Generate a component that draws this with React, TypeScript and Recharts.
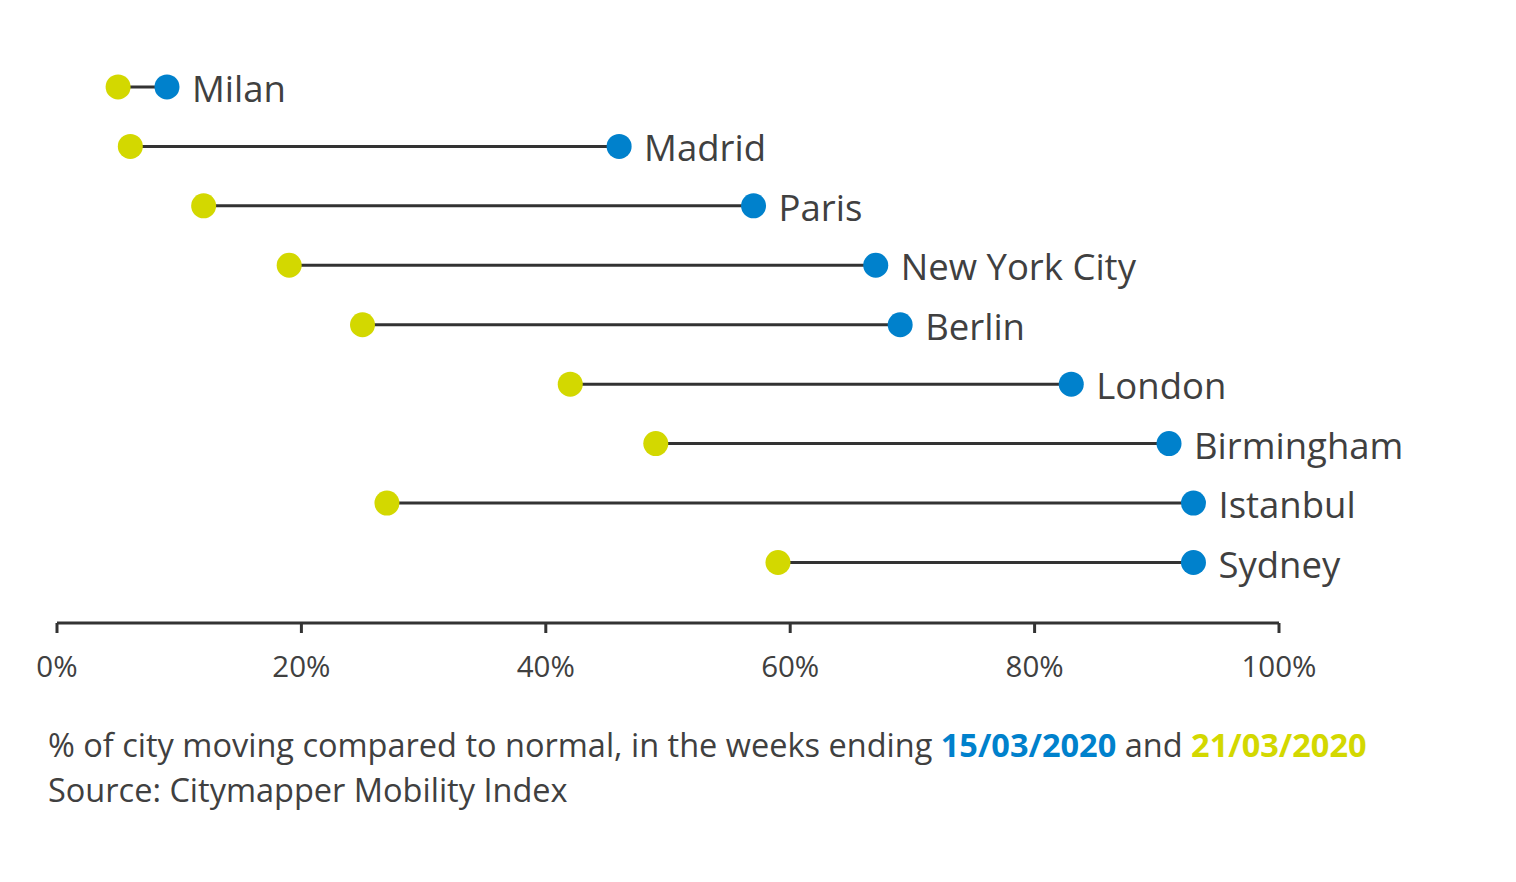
import React from "react"
import { ComposedChart, Bar, XAxis, YAxis } from "recharts"

const cities = ["Milan", "Madrid", "Paris", "New York City", "Berlin", "London", "Birmingham", "Istanbul", "Sydney"]
const week1503 = [9, 46, 57, 67, 69, 83, 91, 93, 93]
const week2103 = [5, 6, 12, 19, 25, 42, 49, 27, 59]
const xTicks = [0, 20, 40, 60, 80, 100]

const BLUE = "#0081cc"
const YELLOW = "#d3d800"
const INK = "#404040"
const FONT = "'Open Sans', 'Noto Sans', sans-serif"

const data = cities.map((city, i) => ({ city, range: [week2103[i], week1503[i]] }))

function Dumbbell(props: any) {
  const { x, y, width, height, payload } = props
  const cy = y + height / 2
  const x1 = x
  const x2 = x + width
  return (
    <g>
      <line x1={x1} y1={cy} x2={x2} y2={cy} stroke="#333" strokeWidth={3} />
      <circle cx={x1} cy={cy} r={12.5} fill={YELLOW} />
      <circle cx={x2} cy={cy} r={12.5} fill={BLUE} />
      <text x={x2 + 25} y={cy + 1} dominantBaseline="central" fontSize={36.5} fill={INK} fontFamily={FONT}>
        {payload.city}
      </text>
    </g>
  )
}

export default function App() {
  return (
    <div style={{ position: "relative", width: 1500, height: 866, fontFamily: FONT }}>
      <ComposedChart
        width={1500}
        height={690}
        data={data}
        layout="vertical"
        margin={{ top: 49, right: 229, bottom: 0, left: 49 }}
      >
        <XAxis
          type="number"
          domain={[0, 100]}
          ticks={xTicks}
          tickFormatter={(v: number) => `${v}%`}
          axisLine={{ stroke: "#333", strokeWidth: 3 }}
          tickLine={{ stroke: "#333", strokeWidth: 3 }}
          tickSize={10}
          tickMargin={23}
          tick={{ fill: INK, fontSize: 29.5, fontFamily: FONT }}
          height={75}
        />
        <YAxis type="category" dataKey="city" hide padding={{ top: 0, bottom: 31 }} />
        <Bar dataKey="range" shape={<Dumbbell />} isAnimationActive={false} />
      </ComposedChart>
      <div style={{ position: "absolute", left: 40, top: 714, fontSize: 32.5, color: INK, lineHeight: "45px" }}>
        <div>
          % of city moving compared to normal, in the weeks ending{" "}
          <span style={{ color: BLUE, fontWeight: 700 }}>15/03/2020</span> and{" "}
          <span style={{ color: YELLOW, fontWeight: 700 }}>21/03/2020</span>
        </div>
        <div>Source: Citymapper Mobility Index</div>
      </div>
    </div>
  )
}
